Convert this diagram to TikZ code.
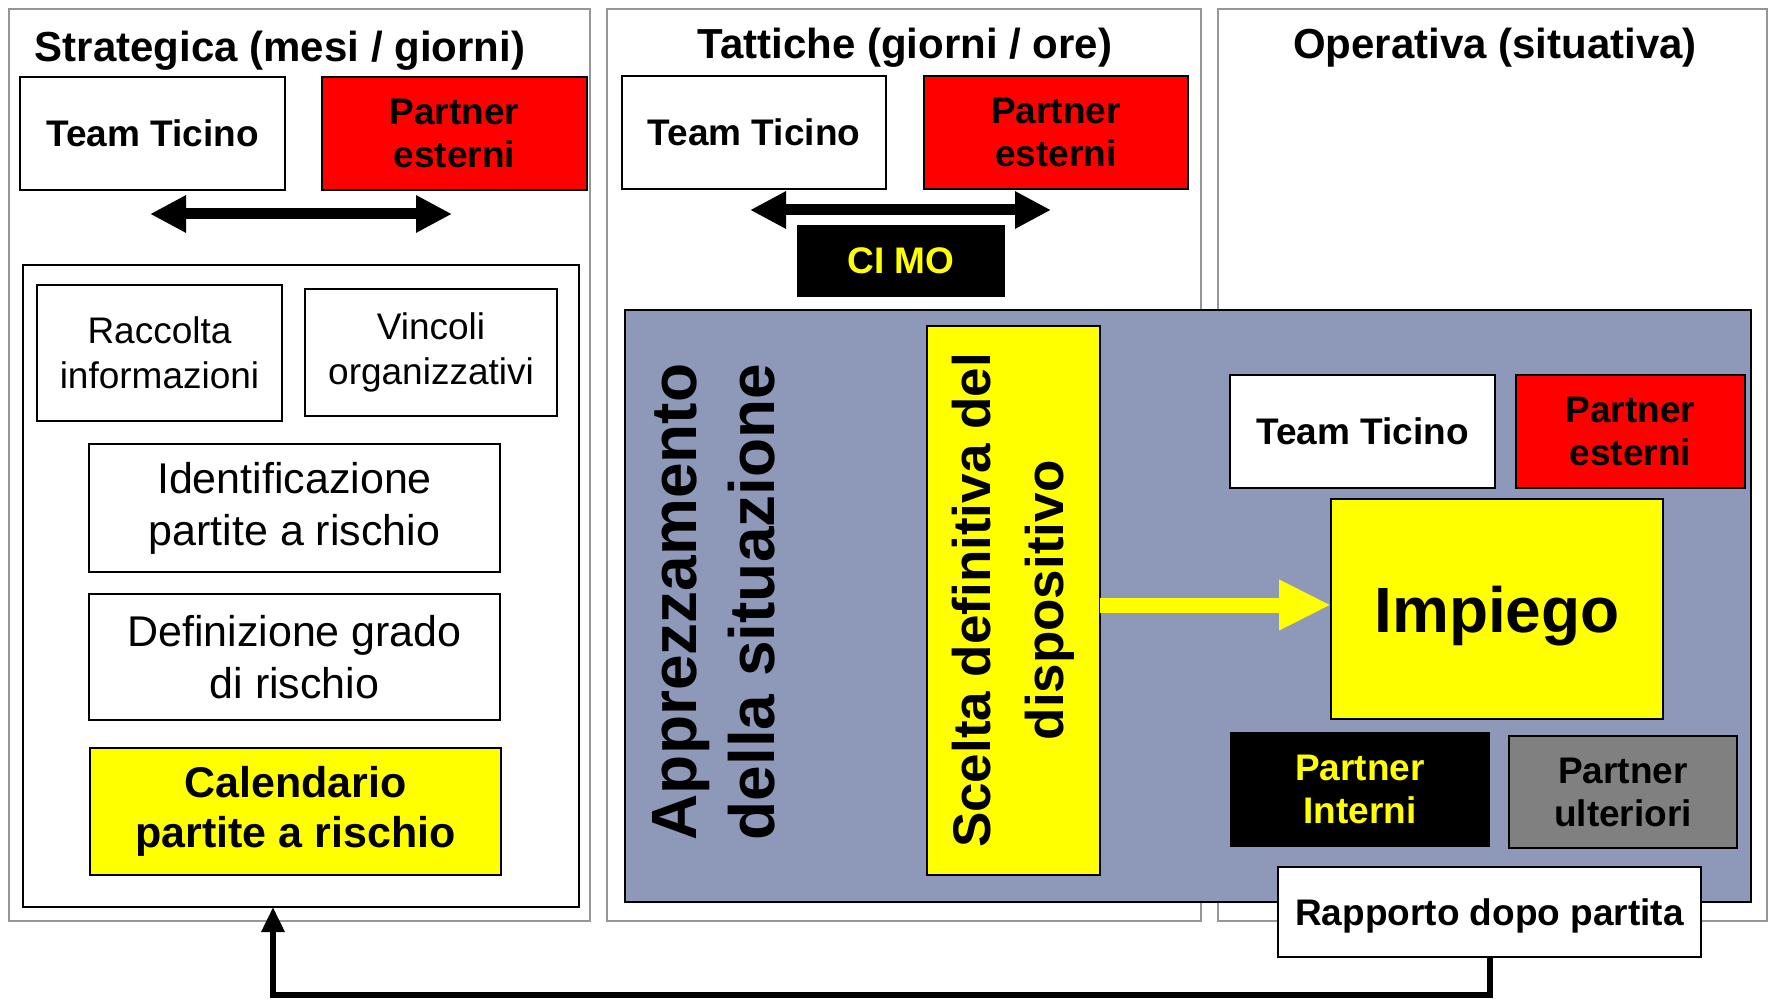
\documentclass[tikz,border=0pt]{standalone}
\usepackage{fontspec}
\setmainfont{Liberation Sans}
\usetikzlibrary{arrows.meta}
\definecolor{bluebg}{RGB}{142,153,186}
\definecolor{colborder}{RGB}{150,150,150}
\definecolor{ylw}{RGB}{255,255,0}
\definecolor{rd}{RGB}{255,0,0}
\definecolor{gry}{RGB}{128,128,128}
\newcommand\dgTitle{\fontsize{42}{48}\selectfont\bfseries}
\newcommand\dgBold{\fontsize{37}{43}\selectfont\bfseries}
\newcommand\dgReg{\fontsize{37}{45}\selectfont}
\newcommand\dgRegL{\fontsize{43}{52}\selectfont}
\newcommand\dgBoldL{\fontsize{43}{50}\selectfont\bfseries}
\newcommand\dgImp{\fontsize{64}{72}\selectfont\bfseries}
\newcommand\dgAppr{\fontsize{64}{78}\selectfont\bfseries}
\newcommand\dgScelta{\fontsize{53}{73}\selectfont\bfseries}
\begin{document}
\begin{tikzpicture}[x=1pt,y=-1pt,
  col/.style={draw=colborder, line width=2.5pt, inner sep=0pt, outer sep=0pt},
  box/.style={draw=black, line width=1.8pt, inner sep=0pt, outer sep=0pt, align=center},
  boldbox/.style={box, font=\dgBold},
  regbox/.style={box, font=\dgReg},
  title/.style={font=\dgTitle, inner sep=0pt, anchor=base},
  dblarrow/.style={line width=11pt, {Triangle[length=36pt,width=35pt]}-{Triangle[length=36pt,width=35pt]}},
  yarrow/.style={draw=ylw, line width=15pt, -{Triangle[length=52pt,width=47pt]}},
  fbarrow/.style={line width=6pt, line join=miter, -{Triangle[length=25pt,width=22pt]}}
]
\useasboundingbox (0,0) rectangle (1773,1000);
\fill[white] (0,0) rectangle (1773,1000);

% columns
\node[col, minimum width=581pt, minimum height=912pt] (c1) at (299.5,465) {};
\node[col, minimum width=594pt, minimum height=912pt] (c2) at (904,465) {};
\node[col, minimum width=549pt, minimum height=912pt] (c3) at (1492.5,465) {};

\node[title] (t1) at (280,62) {Strategica (mesi / giorni)};
\node[title] (t2) at (905,59) {Tattiche (giorni / ore)};
\node[title] (t3) at (1495,59) {Operativa (situativa)};

% strategic column
\node[boldbox, fill=white, minimum width=265pt, minimum height=113pt] (stt) at (152.5,133.5) {Team Ticino};
\node[boldbox, fill=rd, minimum width=265pt, minimum height=113pt] (spe) at (454.5,133.5) {Partner\\esterni};
\coordinate (sa1) at (150,214);
\coordinate (sa2) at (452,214);
\draw[dblarrow] (sa1) -- (sa2);

\node[box, line width=2pt, minimum width=556pt, minimum height=642pt] (inner) at (301,586) {};
\node[regbox, minimum width=245pt, minimum height=136pt] (racc) at (159.5,353) {Raccolta\\informazioni};
\node[regbox, minimum width=252pt, minimum height=127pt] (vinc) at (431,352.5) {Vincoli\\organizzativi};
\node[box, font=\dgRegL, minimum width=411pt, minimum height=128pt] (ident) at (294.5,508) {Identificazione\\partite a rischio};
\node[box, font=\dgRegL, minimum width=411pt, minimum height=126pt] (defin) at (294.5,657) {Definizione grado\\di rischio};
\node[box, font=\dgBoldL, fill=ylw, minimum width=411pt, minimum height=127pt] (cal) at (295.5,811.5) {Calendario\\partite a rischio};

% tactical column
\node[boldbox, fill=white, minimum width=264pt, minimum height=113pt] (ttt) at (754,132.5) {Team Ticino};
\node[boldbox, fill=rd, minimum width=264pt, minimum height=113pt] (tpe) at (1056,132.5) {Partner\\esterni};
\coordinate (ta1) at (750,210);
\coordinate (ta2) at (1051,210);
\draw[dblarrow] (ta1) -- (ta2);
\node[boldbox, fill=black, text=ylw, minimum width=206pt, minimum height=70pt] (cimo) at (901,261) {CI MO};

% big blue area
\node[box, line width=1.5pt, fill=bluebg, minimum width=1126pt, minimum height=592pt] (blue) at (1188,606) {};
\node[font=\dgAppr, align=center, rotate=90, inner sep=0pt] (appr) at (714,602) {Apprezzamento\\della situazione};
\node[box, font=\dgScelta, fill=ylw, rotate=90, minimum width=549pt, minimum height=173pt] (scelta) at (1013.5,600.5) {Scelta definitiva del\\dispositivo};

\node[boldbox, fill=white, minimum width=265pt, minimum height=113pt] (ott) at (1362.5,431.5) {Team Ticino};
\node[boldbox, fill=rd, minimum width=229pt, minimum height=113pt] (ope) at (1630.5,431.5) {Partner\\esterni};
\node[box, font=\dgImp, fill=ylw, text depth=0pt, minimum width=332pt, minimum height=220pt] (impiego) at (1497,609) {Impiego};
\node[boldbox, fill=black, text=ylw, minimum width=258pt, minimum height=113pt] (pint) at (1360,789.5) {Partner\\Interni};
\node[boldbox, fill=gry, minimum width=228pt, minimum height=112pt] (pult) at (1623,792) {Partner\\ulteriori};

\coordinate (ya) at (scelta.south |- 0,605);
\draw[yarrow] (ya) -- (ya -| impiego.west);

\node[boldbox, fill=white, text depth=0pt, minimum width=423pt, minimum height=90pt] (rapp) at (1489.5,912) {Rapporto dopo partita};

% feedback
\coordinate (fbc) at (273,995);
\coordinate (fbe) at (273,907);
\draw[fbarrow] (rapp.south) |- (fbc) -- (fbe);
\end{tikzpicture}
\end{document}
